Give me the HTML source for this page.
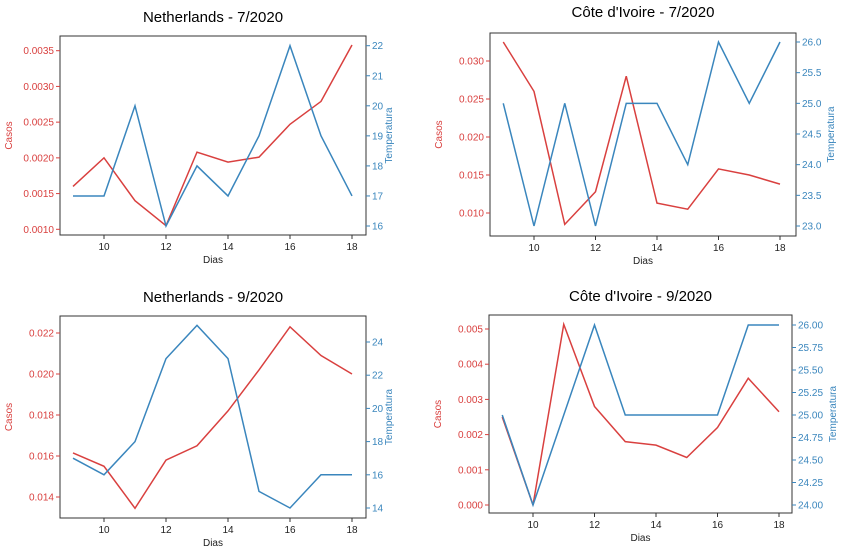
<!DOCTYPE html>
<html><head><meta charset="utf-8"><style>
body{margin:0;background:#fff;font-family:"Liberation Sans","DejaVu Sans",sans-serif}
svg{display:block}
</style></head><body>
<svg id="c" width="843" height="556"></svg>
<script>
const days=[9,10,11,12,13,14,15,16,17,18];
const casosNL7=[0.0016,0.0020,0.0014,0.00105,0.00208,0.00194,0.00201,0.00247,0.00279,0.00358];
const tempNL7=[17,17,20,16,18,17,19,22,19,17];
const casosCI7=[0.0325,0.026,0.0085,0.0128,0.028,0.0113,0.0105,0.0158,0.0150,0.0138];
const tempCI7=[25,23,25,23,25,25,24,26,25,26];
const casosNL9=[0.01615,0.0155,0.01345,0.0158,0.0165,0.0182,0.0202,0.0223,0.0209,0.0200];
const tempNL9=[17,16,18,23,25,23,15,14,16,16];
const casosCI9=[0.0025,0.0,0.00513,0.0028,0.0018,0.0017,0.00135,0.0022,0.0036,0.00265];
const tempCI9=[25,24,25,26,25,25,25,25,26,26];
const xTicks=[10,12,14,16,18];
const lt1=["0.0010","0.0015","0.0020","0.0025","0.0030","0.0035"], rt1=["16","17","18","19","20","21","22"];
const lt2=["0.010","0.015","0.020","0.025","0.030"], rt2=["23.0","23.5","24.0","24.5","25.0","25.5","26.0"];
const lt3=["0.014","0.016","0.018","0.020","0.022"], rt3=["14","16","18","20","22","24"];
const lt4=["0.000","0.001","0.002","0.003","0.004","0.005"], rt4=["24.00","24.25","24.50","24.75","25.00","25.25","25.50","25.75","26.00"];
const panels=[
 {name:"netherlands-7-2020",title:"Netherlands - 7/2020",box:[60,36,366,235],tx:17,x0:104,x1:352,l:[0.0035,50.7,0.0010,229.3],r:[22,45.7,16,226],c:casosNL7,t:tempNL7,lt:lt1,rt:rt1},
 {name:"cote-divoire-7-2020",title:"Côte d'Ivoire - 7/2020",box:[490,33,796,236],tx:12,x0:534,x1:780,l:[0.030,61,0.010,213],r:[26,42,23,226],c:casosCI7,t:tempCI7,lt:lt2,rt:rt2},
 {name:"netherlands-9-2020",title:"Netherlands - 9/2020",box:[60,316,366,518],tx:297,x0:104,x1:352,l:[0.022,333,0.014,497],r:[24,342,14,508],c:casosNL9,t:tempNL9,lt:lt3,rt:rt3},
 {name:"cote-divoire-9-2020",title:"Côte d'Ivoire - 9/2020",box:[489,315,792,513],tx:296,x0:533,x1:779,l:[0.005,329,0.000,505],r:[26,325,24,505],c:casosCI9,t:tempCI9,lt:lt4,rt:rt4}
];
const svg=document.getElementById('c'),NS="http://www.w3.org/2000/svg";
function mk(tag,at,parent,txt){const e=document.createElementNS(NS,tag);for(const k in at)e.setAttribute(k,at[k]);if(txt!==undefined)e.textContent=txt;parent.appendChild(e);return e;}
const RED="#d9403f",BLUE="#3a86bd";
panels.forEach(p=>{
 const g=mk('g',{},svg);
 
 
 const [x0b,y0b,x1b,y1b]=p.box;
 const X=d=>p.x0+(d-10)*(p.x1-p.x0)/8;
 const YL=v=>p.l[1]+(v-p.l[0])*(p.l[3]-p.l[1])/(p.l[2]-p.l[0]);
 const YR=v=>p.r[1]+(v-p.r[0])*(p.r[3]-p.r[1])/(p.r[2]-p.r[0]);
 const tt=mk('text',{x:(x0b+x1b)/2,y:p.tx+5,'text-anchor':'middle','font-size':15,fill:'#000'},g,p.title);
 
 const fr=mk('rect',{x:x0b,y:y0b,width:x1b-x0b,height:y1b-y0b,fill:'none',stroke:'#333','stroke-width':1},g);
 
 xTicks.forEach(d=>{const x=X(d);mk('line',{x1:x,x2:x,y1:y1b,y2:y1b+4,stroke:'#333'},g);
  const t=mk('text',{x:x,y:y1b+15,'text-anchor':'middle','font-size':10,fill:'#222'},g,d);
  });
 const xl=mk('text',{x:(x0b+x1b)/2,y:y1b+28,'text-anchor':'middle','font-size':10,fill:'#222'},g,'Dias');
 
 p.lt.forEach(s=>{const y=YL(parseFloat(s));mk('line',{x1:x0b-4,x2:x0b,y1:y,y2:y,stroke:RED},g);
  const t=mk('text',{x:x0b-6,y:y+3.5,'text-anchor':'end','font-size':10,fill:RED},g,s);
  });
 p.rt.forEach(s=>{const y=YR(parseFloat(s));mk('line',{x1:x1b,x2:x1b+4,y1:y,y2:y,stroke:BLUE},g);
  const t=mk('text',{x:x1b+6,y:y+3.5,'font-size':10,fill:BLUE},g,s);
  });
 const cy=(y0b+y1b)/2;
 const lx=x0b-48;
 const yl=mk('text',{x:lx,y:cy,'text-anchor':'middle','font-size':10,fill:RED,transform:`rotate(-90 ${lx} ${cy})`},g,'Casos');
 
 const rx=x1b+(p.rt[0].length>4?44:(p.rt[0].length>3?38:26));
 const yr=mk('text',{x:rx,y:cy,'text-anchor':'middle','font-size':10,fill:BLUE,transform:`rotate(-90 ${rx} ${cy})`},g,'Temperatura');
 
 const rl=mk('polyline',{points:days.map((d,i)=>X(d)+','+YL(p.c[i])).join(' '),fill:'none',stroke:RED,'stroke-width':1.5},g);
 
 const bl=mk('polyline',{points:days.map((d,i)=>X(d)+','+YR(p.t[i])).join(' '),fill:'none',stroke:BLUE,'stroke-width':1.5},g);
 
});
</script>
</body></html>
